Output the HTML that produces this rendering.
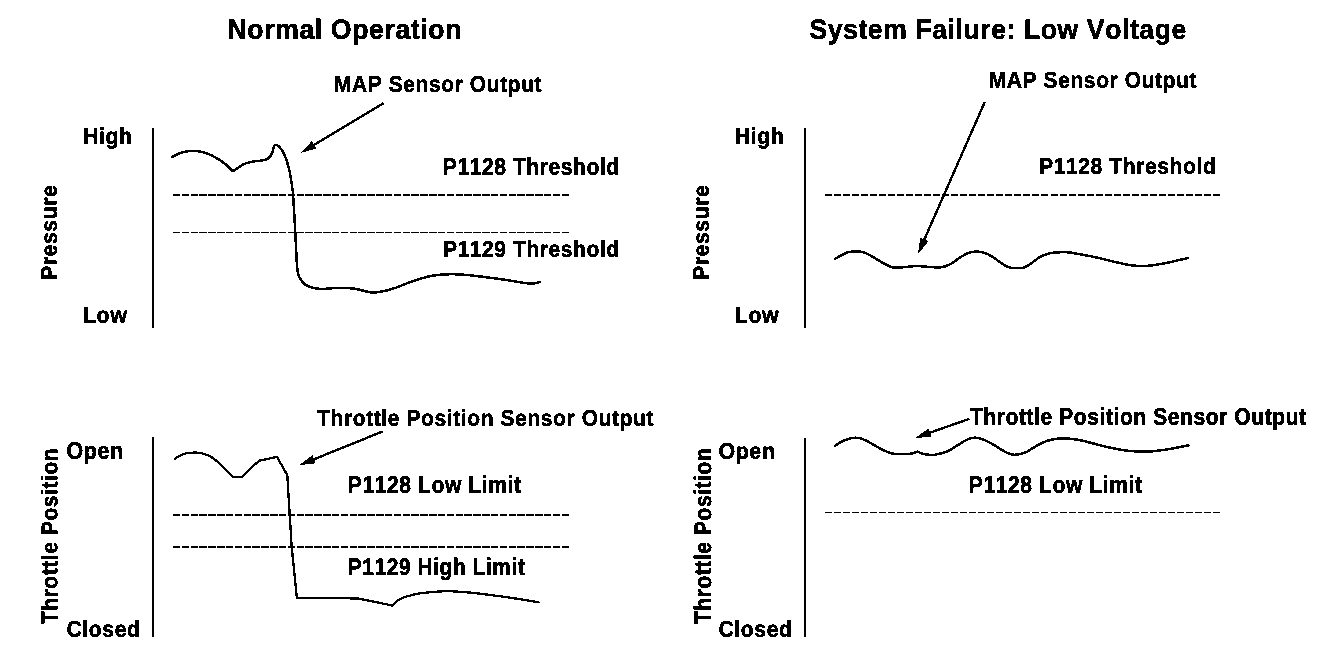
<!DOCTYPE html>
<html lang="en"><head><meta charset="utf-8"><title>MAP / Throttle Position Sensor Diagram</title>
<style>
html,body{margin:0;padding:0;background:#fff;}
body{width:1328px;height:650px;overflow:hidden;}
svg{display:block;font-family:"Liberation Sans",Arial,Helvetica,sans-serif;font-weight:bold;fill:#000;font-kerning:none;letter-spacing:0.65px;}
.t{font-size:29.1px;stroke:#000;stroke-width:0.7px;}
.l{font-size:23px;stroke:#000;stroke-width:0.7px;}
.ax{stroke:#000;stroke-width:2;shape-rendering:crispEdges;}
.dk{stroke:#000;stroke-width:2;stroke-dasharray:7.4 1.432;shape-rendering:crispEdges;fill:none;}
.dn{stroke:#000;stroke-width:1;stroke-dasharray:7.4 1.432;shape-rendering:crispEdges;fill:none;}
.cv{stroke:#000;stroke-width:2.5;fill:none;stroke-linejoin:round;stroke-linecap:round;shape-rendering:crispEdges;}
</style></head><body>
<svg width="1328" height="650" viewBox="0 0 1328 650">
<rect x="0" y="0" width="1328" height="650" fill="#fff"/>
<defs><filter id="bw" filterUnits="userSpaceOnUse" x="0" y="0" width="1328" height="650" color-interpolation-filters="sRGB"><feComponentTransfer><feFuncA type="discrete" tableValues="0 0 0 1 1"/></feComponentTransfer></filter></defs>
<!-- titles -->
<g filter="url(#bw)"><text class="t" transform="translate(227.46,38.65) rotate(0.03) scale(0.9160,0.957)">Normal Operation</text></g>
<g filter="url(#bw)"><text class="t" transform="translate(809.40,38.65) rotate(0.03) scale(0.9126,0.957)">System Failure: Low Voltage</text></g>
<!-- top-left chart: normal operation, MAP sensor -->
<g filter="url(#bw)"><text class="l" transform="translate(333.98,91.65) rotate(0.03) scale(0.9120,0.985)">MAP Sensor Output</text></g>
<g filter="url(#bw)"><text class="l" transform="translate(82.96,143.65) rotate(0.03) scale(0.9244,0.985)">High</text></g>
<g filter="url(#bw)"><text class="l" transform="translate(82.88,322.65) rotate(0.03) scale(0.9307,0.985)">Low</text></g>
<g filter="url(#bw)"><text class="l" transform="translate(56.65,232.29) rotate(-89.97) scale(0.9200,0.985)" text-anchor="middle">Pressure</text></g>
<g filter="url(#bw)"><text class="l" transform="translate(442.79,174.65) rotate(0.03) scale(0.9133,1.04)">P1128 Threshold</text></g>
<g filter="url(#bw)"><text class="l" transform="translate(442.99,256.65) rotate(0.03) scale(0.9121,0.985)">P1129 Threshold</text></g>
<line class="ax" x1="153" y1="128" x2="153" y2="328"/>
<line class="dk" x1="173" y1="195" x2="569" y2="195"/>
<line class="dn" x1="173" y1="232.5" x2="569" y2="232.5"/>
<path class="cv" d="M172.5 156.8 C173.6 156.2 176.7 154.4 179.0 153.5 C181.3 152.6 184.2 151.8 186.5 151.4 C188.8 151.0 190.8 150.9 193.0 150.9 C195.2 150.9 197.0 150.9 199.5 151.4 C202.0 151.9 205.2 152.8 208.1 153.9 C211.0 155.0 213.8 156.5 216.7 158.2 C219.6 159.9 222.6 161.9 225.3 164.1 C228.0 166.3 230.4 168.8 233.0 171.2 C236.2 169.1 240.0 166.2 242.5 164.8 C245.0 163.4 245.7 163.4 247.9 162.8 C250.1 162.2 253.2 161.5 255.5 161.1 C257.8 160.7 259.9 160.9 261.9 160.6 C263.9 160.2 265.9 159.8 267.3 159.0 C268.7 158.2 269.6 157.3 270.5 156.0 C271.4 154.7 272.1 152.8 272.7 151.2 C273.3 149.6 273.4 147.6 273.9 146.5 C274.4 145.4 275.0 144.8 275.9 144.9 C276.8 145.0 277.9 145.5 279.2 146.8 C280.5 148.1 282.2 150.5 283.5 152.8 C284.8 155.1 285.6 157.5 286.7 160.8 C287.8 164.1 289.0 168.4 289.9 172.7 C290.8 177.0 291.6 182.9 292.1 186.7 C292.6 190.5 292.6 187.7 293.1 195.3 C293.6 202.9 294.6 220.2 295.3 232.3 C296.0 244.4 296.5 260.5 297.2 268.0 C297.9 275.5 298.0 274.4 299.4 277.2 C300.8 280.0 303.2 282.9 305.3 284.6 C307.4 286.3 309.3 286.9 312.0 287.6 C314.7 288.3 317.3 288.9 321.6 289.0 C325.9 289.1 332.5 288.0 337.9 287.9 C343.3 287.8 348.4 287.8 354.1 288.6 C359.9 289.4 367.0 292.2 372.4 292.5 C377.8 292.8 382.5 291.4 386.6 290.5 C390.7 289.6 393.4 288.6 396.8 287.4 C400.2 286.2 401.9 285.1 407.0 283.3 C412.1 281.5 421.8 278.2 427.3 276.8 C432.8 275.4 435.9 275.2 440.0 274.8 C444.1 274.4 447.5 274.2 451.7 274.2 C455.9 274.2 460.6 274.5 465.0 274.8 C469.4 275.1 470.8 275.3 478.1 276.2 C485.4 277.1 500.8 279.1 508.6 280.3 C516.4 281.5 520.5 282.6 524.9 283.1 C529.3 283.6 532.5 283.5 535.0 283.3 C537.5 283.1 539.2 282.1 540.1 281.9"/>
<line x1="383.7" y1="103.0" x2="312.5" y2="145.8" stroke="#000" stroke-width="2.4" shape-rendering="crispEdges"/><polygon points="300.5,153.0 311.9,141.0 316.5,148.5" fill="#000" shape-rendering="crispEdges"/>
<!-- top-right chart: low voltage, MAP sensor -->
<g filter="url(#bw)"><text class="l" transform="translate(988.74,87.65) rotate(0.03) scale(0.9133,0.985)">MAP Sensor Output</text></g>
<g filter="url(#bw)"><text class="l" transform="translate(734.87,143.65) rotate(0.03) scale(0.9241,0.985)">High</text></g>
<g filter="url(#bw)"><text class="l" transform="translate(734.86,322.65) rotate(0.03) scale(0.9257,0.985)">Low</text></g>
<g filter="url(#bw)"><text class="l" transform="translate(708.65,232.27) rotate(-89.97) scale(0.9197,0.985)" text-anchor="middle">Pressure</text></g>
<g filter="url(#bw)"><text class="l" transform="translate(1038.99,173.65) rotate(0.03) scale(0.9160,0.985)">P1128 Threshold</text></g>
<line class="ax" x1="805" y1="128" x2="805" y2="328"/>
<line class="dk" style="stroke-dasharray:7 2.02" x1="825" y1="195" x2="1220.2" y2="195"/>
<path class="cv" d="M835.1 258.8 C836.8 257.9 842.4 254.6 845.0 253.4 C847.6 252.2 849.2 252.0 851.0 251.7 C852.8 251.3 854.3 251.3 856.0 251.3 C857.7 251.3 859.3 251.4 861.0 251.7 C862.7 252.0 863.8 252.2 866.0 253.2 C868.2 254.2 871.2 256.0 874.2 257.7 C877.2 259.4 881.0 261.9 884.0 263.5 C887.0 265.1 889.5 266.8 892.3 267.4 C895.1 268.0 897.0 267.6 901.0 267.4 C905.0 267.2 911.6 266.2 916.4 266.1 C921.2 266.0 926.0 266.8 930.0 267.0 C934.0 267.2 937.2 267.7 940.5 267.3 C943.8 266.9 946.0 266.4 949.5 264.6 C953.0 262.8 958.4 258.5 961.6 256.5 C964.9 254.5 966.5 253.6 969.0 252.8 C971.5 252.0 974.1 251.5 976.6 251.5 C979.1 251.5 981.5 252.0 984.0 252.8 C986.5 253.6 988.4 254.3 991.7 256.3 C995.0 258.3 1000.7 262.9 1003.7 264.8 C1006.8 266.7 1007.8 267.1 1010.0 267.6 C1012.2 268.1 1014.7 268.0 1017.0 268.0 C1019.3 268.0 1021.4 268.5 1024.0 267.6 C1026.6 266.7 1029.9 264.2 1032.5 262.4 C1035.1 260.6 1037.8 258.2 1039.8 257.0 C1041.8 255.8 1042.9 255.7 1044.6 255.1 C1046.3 254.5 1047.9 253.8 1050.0 253.3 C1052.1 252.9 1054.7 252.6 1057.0 252.4 C1059.3 252.2 1061.8 252.2 1064.0 252.2 C1066.2 252.2 1068.0 252.3 1070.0 252.5 C1072.0 252.7 1072.5 253.0 1076.0 253.6 C1079.5 254.2 1086.0 255.3 1091.0 256.3 C1096.0 257.3 1101.0 258.6 1106.0 259.8 C1111.0 261.0 1116.8 262.4 1121.0 263.3 C1125.2 264.2 1127.7 264.8 1131.0 265.2 C1134.3 265.6 1137.5 266.0 1141.0 266.0 C1144.5 266.0 1147.8 265.9 1152.0 265.4 C1156.2 264.9 1160.4 264.1 1166.4 262.9 C1172.4 261.7 1184.4 258.8 1188.0 258.0"/>
<line x1="984.8" y1="102.0" x2="923.5" y2="241.4" stroke="#000" stroke-width="2.4" shape-rendering="crispEdges"/><polygon points="917.9,254.2 920.3,237.8 928.4,241.3" fill="#000" shape-rendering="crispEdges"/>
<!-- bottom-left chart: normal operation, throttle position -->
<g filter="url(#bw)"><text class="l" transform="translate(317.10,425.65) rotate(0.03) scale(0.9137,0.985)">Throttle Position Sensor Output</text></g>
<g filter="url(#bw)"><text class="l" transform="translate(66.48,458.65) rotate(0.03) scale(0.9306,1.04)">Open</text></g>
<g filter="url(#bw)"><text class="l" transform="translate(66.47,636.65) rotate(0.03) scale(0.9203,0.985)">Closed</text></g>
<g filter="url(#bw)"><text class="l" transform="translate(57.20,535.97) rotate(-89.97) scale(0.9107,0.985)" text-anchor="middle">Throttle Position</text></g>
<g filter="url(#bw)"><text class="l" transform="translate(347.82,492.65) rotate(0.03) scale(0.9147,1.04)">P1128 Low Limit</text></g>
<g filter="url(#bw)"><text class="l" transform="translate(347.82,574.65) rotate(0.03) scale(0.9083,1.04)">P1129 High Limit</text></g>
<line class="ax" x1="153" y1="437" x2="153" y2="637"/>
<line class="dk" x1="173" y1="515" x2="569" y2="515"/>
<line class="dk" x1="173" y1="547" x2="569" y2="547"/>
<path class="cv" style="stroke-width:2.3" d="M175.2 458.6 C176.0 458.1 178.1 456.5 180.0 455.6 C181.9 454.7 184.1 453.8 186.5 453.3 C188.9 452.8 191.8 452.6 194.5 452.6 C197.2 452.6 199.5 452.5 202.5 453.4 C205.5 454.3 209.0 455.4 212.6 457.8 C216.2 460.2 221.0 464.8 224.3 468.0 C227.6 471.2 229.8 473.9 232.5 476.8 C235.8 476.8 239.2 476.8 242.5 476.8 C245.2 473.9 247.8 470.9 250.6 468.2 C253.4 465.5 256.5 463.2 259.4 460.7 C265.3 459.4 271.1 458.2 277.0 456.9 C280.4 463.0 283.9 469.1 287.3 475.2 C288.1 488.4 288.9 501.6 289.7 514.8 C290.4 525.5 291.0 536.3 291.7 547.0 C293.4 564.0 295.2 581.0 296.9 598.0 C317.1 598.1 337.3 598.3 357.5 598.4 C369.3 600.8 381.0 603.2 392.8 605.6 C394.4 603.9 396.1 601.7 397.6 600.5 C399.1 599.3 400.4 598.9 402.0 598.2 C403.6 597.5 404.5 597.1 407.1 596.4 C409.8 595.6 414.3 594.4 417.9 593.7 C421.5 593.0 424.9 592.8 428.8 592.4 C432.7 592.0 437.1 591.6 441.0 591.4 C444.9 591.2 447.5 591.1 452.0 591.3 C456.5 591.5 461.5 591.8 468.0 592.4 C474.5 593.0 483.2 594.1 491.1 595.1 C499.0 596.1 507.6 597.3 515.5 598.5 C523.4 599.7 534.7 601.6 538.5 602.2"/>
<line x1="382.8" y1="431.4" x2="312.2" y2="460.0" stroke="#000" stroke-width="2.4" shape-rendering="crispEdges"/><polygon points="299.2,465.2 312.4,455.1 315.7,463.3" fill="#000" shape-rendering="crispEdges"/>
<!-- bottom-right chart: low voltage, throttle position -->
<g filter="url(#bw)"><text class="l" transform="translate(969.89,424.65) rotate(0.03) scale(0.9129,1.04)">Throttle Position Sensor Output</text></g>
<g filter="url(#bw)"><text class="l" transform="translate(718.40,458.65) rotate(0.03) scale(0.9317,0.985)">Open</text></g>
<g filter="url(#bw)"><text class="l" transform="translate(718.47,636.65) rotate(0.03) scale(0.9203,0.985)">Closed</text></g>
<g filter="url(#bw)"><text class="l" transform="translate(710.65,535.90) rotate(-89.97) scale(0.9109,1.04)" text-anchor="middle">Throttle Position</text></g>
<g filter="url(#bw)"><text class="l" transform="translate(968.84,492.65) rotate(0.03) scale(0.9146,1.04)">P1128 Low Limit</text></g>
<line class="ax" x1="805" y1="438" x2="805" y2="637"/>
<line class="dn" style="stroke-dasharray:7 2.02" x1="825" y1="512.5" x2="1221" y2="512.5"/>
<path class="cv" d="M835.1 445.8 C836.8 444.8 841.5 441.4 845.0 440.0 C848.5 438.6 852.7 437.7 856.0 437.7 C859.3 437.7 862.0 438.8 865.0 440.0 C868.0 441.2 871.0 443.4 874.2 445.2 C877.4 446.9 881.0 449.1 884.0 450.5 C887.0 451.9 889.5 453.0 892.3 453.6 C895.1 454.2 897.8 454.0 901.0 454.0 C904.2 454.0 908.7 454.0 911.5 453.6 C914.3 453.2 915.6 452.3 917.6 451.6 C919.1 452.3 920.3 453.1 922.0 453.6 C923.7 454.1 925.9 454.4 928.0 454.6 C930.1 454.8 931.4 455.3 934.5 454.8 C937.6 454.3 943.2 453.0 946.5 451.8 C949.8 450.6 951.5 449.0 954.0 447.5 C956.5 446.0 959.3 444.2 961.6 442.8 C963.9 441.4 965.8 440.1 968.0 439.2 C970.2 438.3 972.6 437.6 975.1 437.7 C977.6 437.8 980.2 438.5 983.0 439.5 C985.8 440.5 987.8 441.5 991.7 443.7 C995.7 445.9 1002.9 450.8 1006.7 452.7 C1010.5 454.6 1011.3 454.8 1014.3 454.8 C1017.3 454.8 1021.7 453.8 1024.8 452.7 C1027.9 451.6 1030.0 449.7 1033.0 448.0 C1036.0 446.3 1039.7 443.9 1042.9 442.5 C1046.1 441.1 1048.8 440.3 1052.0 439.6 C1055.2 438.9 1058.7 438.5 1062.0 438.4 C1065.3 438.3 1068.7 438.6 1072.0 439.0 C1075.3 439.4 1076.3 439.3 1082.0 440.6 C1087.7 441.9 1099.5 445.2 1106.0 446.7 C1112.5 448.2 1116.3 449.0 1121.0 449.8 C1125.7 450.6 1129.8 451.0 1134.0 451.3 C1138.2 451.6 1142.0 451.8 1146.0 451.7 C1150.0 451.6 1154.0 451.2 1158.0 450.7 C1162.0 450.2 1165.0 449.8 1170.0 448.9 C1175.0 448.0 1185.2 446.0 1188.3 445.4"/>
<line x1="969.5" y1="418.8" x2="928.2" y2="433.3" stroke="#000" stroke-width="2.4" shape-rendering="crispEdges"/><polygon points="915.0,438.0 928.6,428.5 931.6,436.8" fill="#000" shape-rendering="crispEdges"/>
</svg>
</body></html>
